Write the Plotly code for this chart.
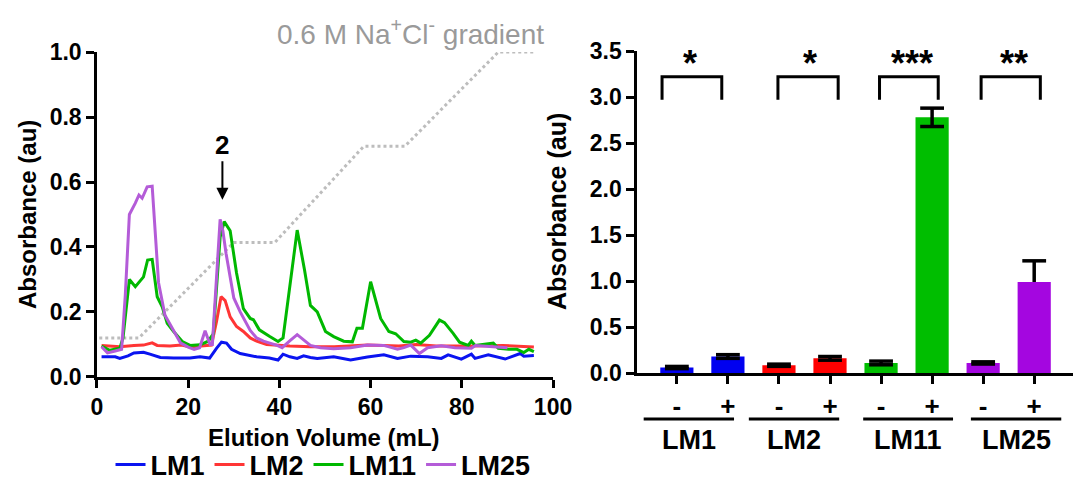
import plotly.graph_objects as go

# ---------------- Left panel: elution profiles ----------------
lm1_x = [1, 4.0, 5.0, 6.8, 8.1, 10.2, 11.6, 13.9, 16.8, 20.4, 22.6, 24.7, 26.2, 27.3, 28.4, 29.5, 31.4, 35.0,
         37.8, 39.7, 40.8, 42.3, 43.9, 45.3, 46.8, 48.3, 51.9, 55.6, 59.3, 62.9, 65.9, 68.8, 72.5, 75.5, 77.0,
         79.9, 82.1, 82.9, 85.8, 89.5, 92.8, 93.6, 95.8]
lm1_y = [0.062, 0.062, 0.057, 0.065, 0.074, 0.076, 0.070, 0.060, 0.058, 0.058, 0.062, 0.058, 0.088, 0.107, 0.104,
         0.085, 0.072, 0.062, 0.058, 0.052, 0.070, 0.062, 0.057, 0.065, 0.060, 0.057, 0.062, 0.052, 0.061, 0.068,
         0.057, 0.064, 0.062, 0.057, 0.068, 0.055, 0.070, 0.057, 0.068, 0.055, 0.072, 0.064, 0.066]

lm2_x = [1, 2.8, 5, 8.1, 10.2, 12.1, 13.2, 16, 18.5, 20.4, 22.6, 25.1, 26.2, 27.2, 28.1, 29.2, 30.6, 32.1, 33.6,
         35, 37.2, 39.4, 42.3, 46.8, 52, 59.3, 66.2, 70, 74.4, 81.7, 89, 95.8]
lm2_y = [0.097, 0.095, 0.093, 0.097, 0.098, 0.105, 0.097, 0.095, 0.098, 0.092, 0.095, 0.098, 0.170, 0.247, 0.235,
         0.185, 0.155, 0.140, 0.120, 0.110, 0.100, 0.097, 0.095, 0.093, 0.093, 0.098, 0.095, 0.100, 0.095, 0.095,
         0.097, 0.092]

lm11_x = [1, 2.8, 5.0, 5.7, 7.1, 8.4, 10.2, 11.1, 12.1, 13.2, 14.3, 15.4, 16.8, 18.7, 20.4, 22.6, 24.4, 25.5, 27.0,
          27.9, 29.2, 30.6, 32.1, 33.6, 34.3, 35.6, 37.8, 39.7, 40.8, 42.3, 43.9, 45.5, 46.8, 48.3, 50.1, 51.9,
          54.1, 56.0, 57.0, 58.2, 60.0, 62.2, 64.0, 65.5, 67.3, 68.8, 69.9, 71.0, 72.9, 75.1, 76.2, 78.1, 79.5,
          81.4, 82.1, 82.9, 84.7, 86.9, 88.0, 90.3, 92.1, 93.6, 94.7, 95.8]
lm11_y = [0.095, 0.082, 0.088, 0.120, 0.300, 0.278, 0.308, 0.360, 0.362, 0.247, 0.216, 0.165, 0.140, 0.109, 0.097,
          0.099, 0.110, 0.133, 0.430, 0.478, 0.450, 0.320, 0.210, 0.180, 0.176, 0.145, 0.125, 0.109, 0.120, 0.280,
          0.452, 0.330, 0.220, 0.200, 0.140, 0.124, 0.110, 0.108, 0.150, 0.150, 0.293, 0.180, 0.140, 0.133, 0.109,
          0.107, 0.113, 0.104, 0.128, 0.175, 0.167, 0.134, 0.107, 0.097, 0.110, 0.097, 0.100, 0.104, 0.088, 0.085,
          0.085, 0.075, 0.085, 0.078]

lm25_x = [1, 2.3, 4, 5.4, 6.2, 7.1, 8.4, 9.2, 9.9, 11.0, 12.1, 12.8, 13.5, 14.9, 16.8, 18.3, 20.0, 21.3, 22.5, 23.7,
          24.8, 25.3, 27.0, 27.6, 28.3, 29.2, 30.0, 31.4, 33.6, 35.0, 36.5, 39.5, 40.6, 42.2, 43.9, 46.8, 49.0,
          51.9, 55.6, 59.3, 62.9, 65.9, 67.3, 68.8, 70.7, 72.5, 75.5, 78.5, 82.1, 83.0, 85.8, 88.5, 90.0]
lm25_y = [0.093, 0.074, 0.080, 0.085, 0.250, 0.500, 0.535, 0.560, 0.550, 0.585, 0.587, 0.420, 0.290, 0.190, 0.145,
          0.105, 0.092, 0.085, 0.090, 0.142, 0.100, 0.100, 0.485, 0.450, 0.380, 0.300, 0.243, 0.200, 0.143, 0.120,
          0.110, 0.097, 0.090, 0.110, 0.130, 0.097, 0.090, 0.087, 0.090, 0.098, 0.097, 0.085, 0.090, 0.098, 0.072,
          0.090, 0.096, 0.090, 0.088, 0.097, 0.095, 0.093, 0.090]

grad_x = [0.5, 9.2, 30.0, 39.0, 58.5, 67.5, 88.0, 96.3]
grad_y = [0.12, 0.12, 0.414, 0.414, 0.71, 0.71, 1.0, 1.0]

left_xticks = [0, 20, 40, 60, 80, 100]
left_yticks = [0.0, 0.2, 0.4, 0.6, 0.8, 1.0]

series_names = ["LM1", "LM2", "LM11", "LM25"]
line_colors = ["#0A14F0", "#FF3535", "#00B800", "#B45CD8"]

# ---------------- Right panel: bar chart ----------------
bar_labels = ["-", "+", "-", "+", "-", "+", "-", "+"]
bar_values = [0.06, 0.18, 0.085, 0.16, 0.11, 2.78, 0.11, 0.99]
bar_err_plus = [0.012, 0.02, 0.012, 0.02, 0.02, 0.10, 0.012, 0.23]
bar_err_minus = [0.012, 0.02, 0.012, 0.02, 0.02, 0.10, 0.012, 0.0]
bar_colors = ["#0000F0", "#0000F0", "#FF0000", "#FF0000", "#00BE00", "#00BE00", "#A406E0", "#A406E0"]
group_names = ["LM1", "LM2", "LM11", "LM25"]
significance = ["*", "*", "***", "**"]
right_yticks = [0.0, 0.5, 1.0, 1.5, 2.0, 2.5, 3.0, 3.5]

FONT = "Liberation Sans, Arial, Helvetica, sans-serif"

fig = go.Figure()

# gradient first (behind)
fig.add_trace(go.Scatter(x=grad_x, y=grad_y, mode="lines", line=dict(color="#BDBDBD", width=3, dash="dot"),
                         showlegend=False, xaxis="x", yaxis="y", hoverinfo="skip"))

for nm, xs, ys, col in zip(series_names, [lm1_x, lm2_x, lm11_x, lm25_x], [lm1_y, lm2_y, lm11_y, lm25_y], line_colors):
    fig.add_trace(go.Scatter(x=xs, y=ys, mode="lines", name=nm, line=dict(color=col, width=3),
                             xaxis="x", yaxis="y"))

bar_pos = list(range(len(bar_values)))
fig.add_trace(go.Bar(x=bar_pos, y=bar_values, marker=dict(color=bar_colors, line=dict(width=0)), width=0.65,
                     showlegend=False, xaxis="x2", yaxis="y2"))
# error stems (no caps) and caps only where an error exists
fig.add_trace(go.Scatter(x=bar_pos, y=bar_values, mode="markers", marker=dict(size=1, color="rgba(0,0,0,0)"),
                         error_y=dict(type="data", symmetric=False, array=bar_err_plus, arrayminus=bar_err_minus,
                                      color="black", thickness=3.5, width=0),
                         showlegend=False, xaxis="x2", yaxis="y2", hoverinfo="skip"))
cap_x, cap_y = [], []
for p, v, ep, em in zip(bar_pos, bar_values, bar_err_plus, bar_err_minus):
    if ep > 0:
        cap_x.append(p); cap_y.append(v + ep)
    if em > 0:
        cap_x.append(p); cap_y.append(v - em)
fig.add_trace(go.Scatter(x=cap_x, y=cap_y, mode="markers",
                         marker=dict(symbol="line-ew", size=17, line=dict(color="black", width=3.5)),
                         showlegend=False, xaxis="x2", yaxis="y2", hoverinfo="skip"))

axis_font = dict(family=FONT, size=23, color="black", weight="bold")
common = dict(showline=True, linewidth=2.5, linecolor="black", ticks="outside", ticklen=8, tickwidth=2.5,
              tickcolor="black", showgrid=False, zeroline=False, tickfont=axis_font, automargin=False)

fig.update_layout(
    width=1073, height=482, margin=dict(l=0, r=0, t=0, b=0, autoexpand=False),
    paper_bgcolor="white", plot_bgcolor="white", barmode="overlay",
    xaxis=dict(domain=[0.0904, 0.5154], range=[0, 100], tickvals=left_xticks, anchor="y", **common),
    yaxis=dict(domain=[0.218, 0.892], range=[0, 1.0], tickvals=left_yticks, tickformat=".1f", anchor="x", **common),
    xaxis2=dict(domain=[0.5937, 1.0], range=[-0.78, 7.76], tickvals=bar_pos, ticktext=bar_labels, anchor="y2",
                **{**common, "tickfont": dict(family=FONT, size=26, color="black", weight="bold")}),
    yaxis2=dict(domain=[0.226, 0.894], range=[0, 3.5], tickvals=right_yticks, tickformat=".1f", anchor="x2", **common),
    legend=dict(orientation="h", x=0.103, xanchor="left", y=1 - 465 / 482, yanchor="middle",
                font=dict(family=FONT, size=27, color="black", weight="bold"), itemwidth=30,
                bgcolor="rgba(0,0,0,0)", tracegroupgap=0),
    showlegend=True,
)

annotations = []
shapes = []
C = dict(xanchor="center", yanchor="middle", showarrow=False)
# axis titles
annotations.append(dict(text="Elution Volume (mL)", x=324 / 1073, y=1 - 437 / 482, xref="paper", yref="paper",
                        font=dict(family=FONT, size=24, color="black", weight="bold"), **C))
annotations.append(dict(text="Absorbance (au)", x=28 / 1073, y=1 - 215 / 482, xref="paper", yref="paper",
                        textangle=-90, font=dict(family=FONT, size=24, color="black", weight="bold"), **C))
annotations.append(dict(text="Absorbance (au)", x=557 / 1073, y=1 - 212 / 482, xref="paper", yref="paper",
                        textangle=-90, font=dict(family=FONT, size=25, color="black", weight="bold"), **C))
# gradient label
annotations.append(dict(text="0.6 M Na<sup>+</sup>Cl<sup>-</sup> gradient", x=410 / 1073, y=1 - 32 / 482,
                        xref="paper", yref="paper", font=dict(family=FONT, size=28, color="#9A9A9A"), **C))
# peak arrow
annotations.append(dict(text="<b>2</b>", x=27.5, y=0.545, xref="x", yref="y", showarrow=True, ax=0, ay=-55,
                        arrowhead=2, arrowsize=1.2, arrowwidth=2, arrowcolor="black",
                        font=dict(family=FONT, size=26, color="black")))

# brackets and stars
bracket_x = [(-0.29, 0.88), (1.98, 3.16), (3.97, 5.12), (5.96, 7.12)]
star_x = [0.25, 2.6, 4.6, 6.6]
for (x0, x1), sx, s in zip(bracket_x, star_x, significance):
    shapes.append(dict(type="path", xref="x2", yref="y2",
                       path=f"M {x0},2.97 L {x0},3.22 L {x1},3.22 L {x1},2.97",
                       line=dict(color="black", width=3)))
    annotations.append(dict(text=s, x=sx, y=3.36, xref="x2", yref="y2",
                            font=dict(family=FONT, size=36, color="black", weight="bold"), **C))

# group underlines and labels
group_lines = [(-0.65, 1.12), (1.41, 3.18), (3.65, 5.41), (5.76, 7.53)]
for (x0, x1), g in zip(group_lines, group_names):
    shapes.append(dict(type="line", xref="x2", yref="paper", x0=x0, x1=x1, y0=1 - 419 / 482, y1=1 - 419 / 482,
                       line=dict(color="black", width=3)))
    annotations.append(dict(text=g, x=(x0 + x1) / 2, y=1 - 440 / 482, xref="x2", yref="paper",
                            font=dict(family=FONT, size=27, color="black", weight="bold"), **C))

fig.update_layout(annotations=annotations, shapes=shapes)
fig.write_html("out.html")
